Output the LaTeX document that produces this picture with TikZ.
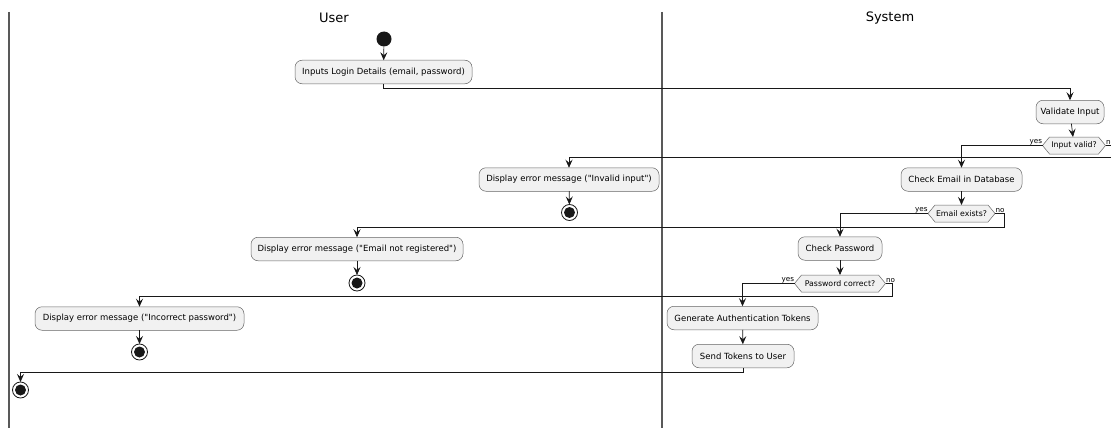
\documentclass[tikz,border=0pt]{standalone}
\usepackage{fontspec}
\setmainfont{DejaVu Sans}[Ligatures=TeXOff]
\usetikzlibrary{arrows.meta}
\definecolor{actfill}{HTML}{F1F1F1}
\definecolor{ink}{HTML}{181818}
\pgfdeclarelayer{bg}
\pgfsetlayers{bg,main}

% hexagonal outline drawn behind a decision node
\newcommand\hexoutline[1]{%
  \begin{pgfonlayer}{bg}
    \draw[hexa] (#1.west) -- ([xshift=7pt]#1.north west) -- ([xshift=-7pt]#1.north east)
      -- (#1.east) -- ([xshift=-7pt]#1.south east) -- ([xshift=7pt]#1.south west) -- cycle;
  \end{pgfonlayer}}

\begin{document}
\begin{tikzpicture}[x=1pt,y=-1pt,
  every node/.style={inner sep=0pt, outer sep=0pt},
  action/.style={draw=black!60, line width=0.5pt, fill=actfill, rounded corners=7pt,
    minimum height=23.5pt, font=\fontsize{8.5}{10}\selectfont},
  decision/.style={minimum height=17pt, font=\fontsize{7.8}{9}\selectfont},
  hexa/.style={draw=black!60, line width=0.5pt, fill=actfill},
  flow/.style={draw=ink, line width=0.7pt},
  arr/.style={flow, -{Stealth[length=8pt,width=7pt,inset=3pt]}},
  startdot/.style={circle, fill=ink, minimum size=15pt},
  enddot/.style={circle, draw=ink, line width=0.8pt, fill=white, minimum size=16pt,
    path picture={\fill[ink] (path picture bounding box.center) circle (5.5pt);}},
  lane/.style={draw=black!65, line width=1.5pt},
  lanetitle/.style={font=\fontsize{13}{15}\selectfont},
  branch/.style={font=\fontsize{7.2}{8}\selectfont, inner sep=0.5pt}
]
\clip (0,0) rectangle (1111,428);
\useasboundingbox (0,0) rectangle (1111,428);

% swimlanes
\draw[lane] (9,12) -- (9,428);
\draw[lane] (662,12) -- (662,428);
\node[lanetitle] (usertitle) at (334,18) {User};
\node[lanetitle] (systitle) at (890,18) {System};

% activities
\node[startdot] (start) at (384,39) {};
\node[action, minimum width=177pt] (login) at (383.5,72) {Inputs Login Details (email, password)};
\node[action, minimum width=68pt] (validate) at (1070,112) {Validate Input};
\node[decision, minimum width=63pt] (d1) at (1074,145.5) {Input valid?};
\hexoutline{d1}
\node[action, minimum width=180pt] (invalid) at (569,179.5) {Display error message ("Invalid input")};
\node[enddot] (end1) at (569.5,212.5) {};
\node[action, minimum width=121pt] (checkemail) at (961.5,179.5) {Check Email in Database};
\node[decision, minimum width=67pt] (d2) at (961.5,213.5) {Email exists?};
\hexoutline{d2}
\node[action, minimum width=212pt] (notreg) at (357,249) {Display error message ("Email not registered")};
\node[enddot] (end2) at (357,283) {};
\node[action, minimum width=84pt] (checkpass) at (840,248.5) {Check Password};
\node[decision, minimum width=91pt] (d3) at (840,283.5) {Password correct?};
\hexoutline{d3}
\node[action, minimum width=151pt] (generate) at (742.5,318) {Generate Authentication Tokens};
\node[action, minimum width=102pt] (send) at (743,356) {Send Tokens to User};
\node[action, minimum width=209pt] (incorrect) at (139.5,318.5) {Display error message ("Incorrect password")};
\node[enddot] (end3) at (139.5,352) {};
\node[enddot] (final) at (20.5,390) {};

% branch labels
\node[branch, anchor=south east] (y1) at (d1.west) {yes};
\node[branch, anchor=south west] (n1) at (d1.east) {no};
\node[branch, anchor=south east] (y2) at (d2.west) {yes};
\node[branch, anchor=south west] (n2) at (d2.east) {no};
\node[branch, anchor=south east] (y3) at (d3.west) {yes};
\node[branch, anchor=south west] (n3) at (d3.east) {no};

% flow
\draw[arr] (start) -- (login);
\draw[arr] (login.south) -- ++(0,5) -| (validate.north);
\draw[arr] (validate) -- (d1);
\draw[arr] (d1.west) -| (checkemail.north);
\draw[arr] (d1.east) -- ++(8,0) -- ++(0,12) -| (invalid.north);
\draw[arr] (invalid) -- (end1);
\draw[arr] (checkemail) -- (d2);
\draw[arr] (d2.west) -| (checkpass.north);
\draw[arr] (d2.east) -- ++(9,0) -- ++(0,13.5) -| (notreg.north);
\draw[arr] (notreg) -- (end2);
\draw[arr] (checkpass) -- (d3);
\draw[arr] (d3.west) -| (generate.north);
\draw[arr] (d3.east) -- ++(7,0) -- ++(0,12.5) -| (incorrect.north);
\draw[arr] (incorrect) -- (end3);
\draw[arr] (generate) -- (send);
\draw[arr] (send.south) -- ++(0,4.5) -| (final.north);
\end{tikzpicture}
\end{document}
